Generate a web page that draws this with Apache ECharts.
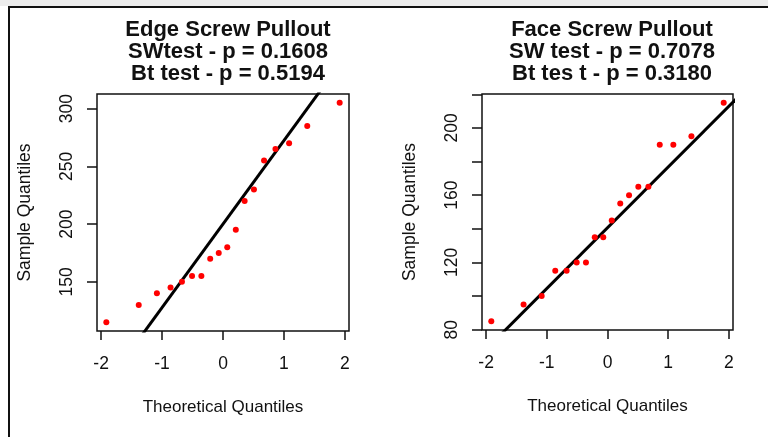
<!DOCTYPE html>
<html>
<head>
<meta charset="utf-8">
<script src="https://cdn.jsdelivr.net/npm/echarts@6/dist/echarts.min.js"></script>
<style>
  html, body { margin: 0; padding: 0; background: #fff; }
  #chart { width: 768px; height: 437px; }
</style>
</head>
<body>
<div id="chart"></div>
<script>
// theoretical normal quantiles, n = 18
const theoQ = [-1.915, -1.383, -1.085, -0.861, -0.674, -0.508, -0.355, -0.210, -0.070,
               0.070, 0.210, 0.355, 0.508, 0.674, 0.861, 1.085, 1.383, 1.915];
const edgeValues = [115, 130, 140, 145, 150, 155, 155, 170, 175, 180, 195, 220, 230, 255, 265, 270, 285, 305];
const faceValues = [85, 95, 100, 115, 115, 120, 120, 135, 135, 145, 155, 160, 165, 165, 190, 190, 195, 215];
const xTicks = [-2, -1, 0, 1, 2];
const edgeYTicks = [150, 200, 250, 300];
const edgeYLabels = [150, 200, 250, 300];
const faceYTicks = [80, 100, 120, 140, 160, 180, 200, 220];
const faceYLabels = [80, 120, 160, 200];
const titles = [
    'Edge Screw Pullout\nSWtest - p = 0.1608\nBt test - p = 0.5194',
    'Face Screw Pullout\nSW test - p = 0.7078\nBt tes t - p = 0.3180'
];

const FONT = '"Liberation Sans", Arial, sans-serif';

// R-style 4% axis extension
function range(arr) {
    const lo = Math.min(...arr), hi = Math.max(...arr);
    const d = (hi - lo) * 0.04;
    return [lo - d, hi + d];
}
// quantile type 7
function quantile(sorted, p) {
    const h = (sorted.length - 1) * p;
    const i = Math.floor(h);
    return sorted[i] + (h - i) * ((sorted[i + 1] ?? sorted[i]) - sorted[i]);
}
function qqline(vals) {
    const q1 = quantile(vals, 0.25), q3 = quantile(vals, 0.75);
    const slope = (q3 - q1) / (2 * 0.6745);
    const mid = q1 + slope * 0.6745;
    return [[-2.5, mid - 2.5 * slope], [2.5, mid + 2.5 * slope]];
}

const chart = echarts.init(document.getElementById('chart'));
const xr = range(theoQ);
const ryEdge = range(edgeValues);
const ryFace = range(faceValues);

function xAxis(gi) {
    return {
        gridIndex: gi, type: 'value', min: xr[0], max: xr[1],
        name: 'Theoretical Quantiles', nameLocation: 'middle', nameGap: 68,
        nameTextStyle: { color: '#111', fontSize: 17, fontFamily: FONT },
        axisLine: { show: false, onZero: false },
        splitLine: { show: false },
        axisTick: { show: true, inside: false, length: 9, customValues: xTicks,
            lineStyle: { color: '#111', width: 1.5 } },
        axisLabel: { customValues: xTicks, margin: 24, color: '#111', fontSize: 17.5, fontFamily: FONT }
    };
}
function yAxis(gi, r, ticks, labels) {
    return {
        gridIndex: gi, type: 'value', min: r[0], max: r[1],
        name: 'Sample Quantiles', nameLocation: 'middle', nameGap: 63,
        nameTextStyle: { color: '#111', fontSize: 17.5, fontFamily: FONT },
        axisLine: { show: false, onZero: false },
        splitLine: { show: false },
        axisTick: { show: true, inside: false, length: 10, customValues: ticks,
            lineStyle: { color: '#111', width: 1.5 } },
        axisLabel: { customValues: labels, rotate: 90, margin: 21, color: '#111', fontSize: 17.5, fontFamily: FONT }
    };
}
function pts(vals) { return theoQ.map((q, i) => [q, vals[i]]); }

const titleStyle = { color: '#111', fontSize: 22, fontWeight: 'bold', lineHeight: 22, fontFamily: FONT };

const option = {
    animation: false,
    title: [
        { text: titles[0], left: 223, top: 14, textAlign: 'center', textStyle: titleStyle },
        { text: titles[1], left: 607, top: 14, textAlign: 'center', textStyle: titleStyle }
    ],
    graphic: [
        { type: 'rect', shape: { x: 0, y: 0, width: 768, height: 6 }, style: { fill: '#ececec' }, silent: true },
        { type: 'rect', shape: { x: 9, y: 7, width: 800, height: 500 },
          style: { fill: 'none', stroke: '#111', lineWidth: 2 }, silent: true }
    ],
    grid: [
        { left: 97, top: 94, width: 252, height: 237, show: true, borderColor: '#111', borderWidth: 1.5, backgroundColor: 'transparent' },
        { left: 482, top: 94, width: 251, height: 236, show: true, borderColor: '#111', borderWidth: 1.5, backgroundColor: 'transparent' }
    ],
    xAxis: [xAxis(0), xAxis(1)],
    yAxis: [yAxis(0, ryEdge, edgeYTicks, edgeYLabels), yAxis(1, ryFace, faceYTicks, faceYLabels)],
    series: [
        { type: 'line', xAxisIndex: 0, yAxisIndex: 0, data: qqline(edgeValues), symbol: 'none', clip: true,
          lineStyle: { color: '#000', width: 3 }, z: 2 },
        { type: 'line', xAxisIndex: 1, yAxisIndex: 1, data: qqline(faceValues), symbol: 'none', clip: true,
          lineStyle: { color: '#000', width: 3 }, z: 2 },
        { type: 'scatter', xAxisIndex: 0, yAxisIndex: 0, data: pts(edgeValues), symbolSize: 6,
          itemStyle: { color: '#ff0000', opacity: 1 }, z: 3 },
        { type: 'scatter', xAxisIndex: 1, yAxisIndex: 1, data: pts(faceValues), symbolSize: 6,
          itemStyle: { color: '#ff0000', opacity: 1 }, z: 3 }
    ]
};
chart.setOption(option);
</script>
</body>
</html>
